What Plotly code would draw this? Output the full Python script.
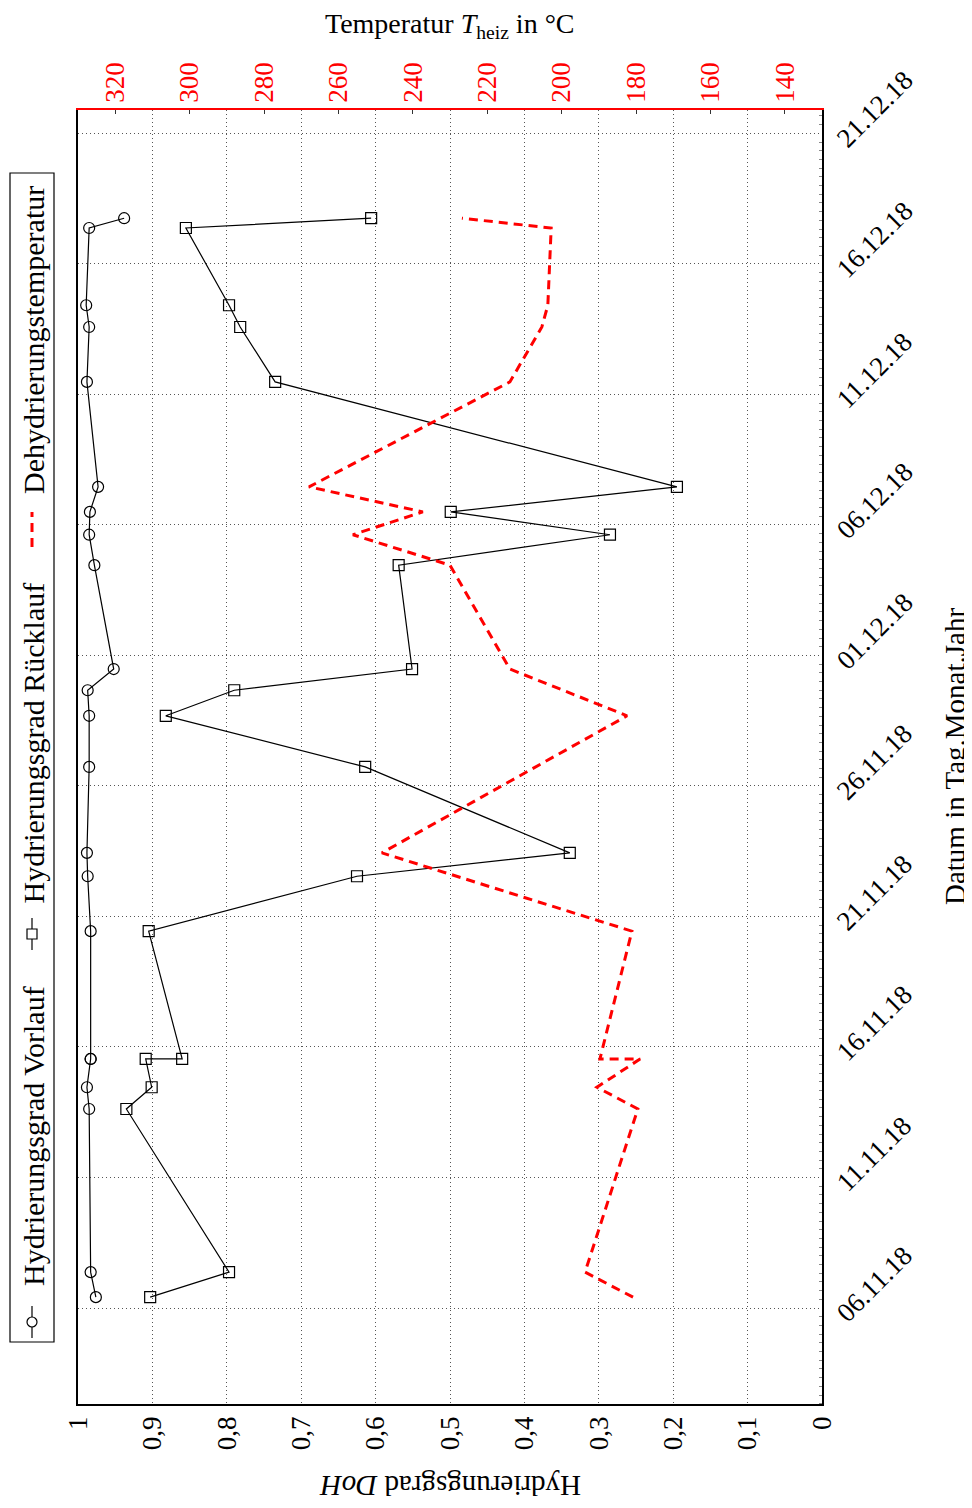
import plotly.graph_objects as go

# ---------------- data ----------------
dates = ["2018-11-06 10:00", "2018-11-07 09:00", "2018-11-13 15:00", "2018-11-14 11:00",
         "2018-11-15 13:00", "2018-11-15 13:00", "2018-11-20 10:30", "2018-11-22 13:00",
         "2018-11-23 10:30", "2018-11-26 17:30", "2018-11-28 16:30", "2018-11-29 16:00",
         "2018-11-30 11:30", "2018-12-04 11:00", "2018-12-05 15:00", "2018-12-06 12:00",
         "2018-12-07 11:00", "2018-12-11 11:30", "2018-12-13 14:00", "2018-12-14 10:00",
         "2018-12-17 09:00", "2018-12-17 18:00"]
doh_vorlauf = [0.976, 0.983, 0.985, 0.988, 0.983, 0.983, 0.983, 0.987, 0.988, 0.985, 0.985,
               0.987, 0.952, 0.978, 0.985, 0.984, 0.973, 0.988, 0.985, 0.989, 0.985, 0.938]
doh_ruecklauf = [0.903, 0.797, 0.935, 0.901, 0.909, 0.860, 0.905, 0.625, 0.339, 0.614, 0.882,
                 0.790, 0.551, 0.569, 0.285, 0.499, 0.195, 0.735, 0.782, 0.797, 0.855, 0.606]

temp_dates = ["2018-11-06 10:00", "2018-11-07 09:00", "2018-11-13 15:00", "2018-11-14 11:00",
              "2018-11-15 13:00", "2018-11-15 13:00", "2018-11-20 10:30", "2018-11-23 10:30",
              "2018-11-28 16:30", "2018-11-30 11:30", "2018-12-04 11:00", "2018-12-05 15:00",
              "2018-12-06 12:00", "2018-12-07 11:00", "2018-12-11 11:30", "2018-12-13 14:00",
              "2018-12-14 10:00", "2018-12-17 09:00", "2018-12-17 18:00"]
temp_heiz = [180.8, 193.7, 179.5, 190.5, 178.9, 189.7, 181.1, 248.3, 182.4, 213.9, 230.0,
             256.1, 237.3, 267.9, 213.9, 205.3, 203.7, 202.8, 226.8]

doh_ticks = [1, 0.9, 0.8, 0.7, 0.6, 0.5, 0.4, 0.3, 0.2, 0.1, 0]
temp_ticks = [320, 300, 280, 260, 240, 220, 200, 180, 160, 140]

legend_names = ["Hydrierungsgrad Vorlauf", "Hydrierungsgrad Rücklauf", "Dehydrierungstemperatur"]

FONT = "Liberation Serif"
OFF = 8  # default body margin of the html page
W, H = 972 - OFF, 1508 - OFF
# plot area in page pixel coordinates
L, R, T, B = 78, 822, 110, 1404


def px(x):
    return (x - L) / (R - L)


def py(y):
    return (B - y) / (B - T)


fig = go.Figure()
fig.add_trace(go.Scatter(
    x=doh_vorlauf, y=dates, mode="lines+markers", name=legend_names[0],
    line=dict(color="black", width=1.2),
    marker=dict(symbol="circle-open", size=11, color="black", line=dict(width=1.2)),
    xaxis="x", yaxis="y", showlegend=False))
fig.add_trace(go.Scatter(
    x=doh_ruecklauf, y=dates, mode="lines+markers", name=legend_names[1],
    line=dict(color="black", width=1.2),
    marker=dict(symbol="square-open", size=11, color="black", line=dict(width=1.2)),
    xaxis="x", yaxis="y", showlegend=False))
fig.add_trace(go.Scatter(
    x=temp_heiz, y=temp_dates, mode="lines", name=legend_names[2],
    line=dict(color="#ff0000", width=3, dash="9px,6px"),
    xaxis="x2", yaxis="y", showlegend=False))

GRID = dict(showgrid=True, gridcolor="#555", griddash="1px,3px", gridwidth=1)

fig.update_layout(
    width=W, height=H,
    margin=dict(l=L - OFF, r=W - (R - OFF), t=T - OFF, b=H - (B - OFF), autoexpand=False),
    paper_bgcolor="white", plot_bgcolor="white",
    separators=",.",
    font=dict(family=FONT, size=27, color="black"),
    xaxis=dict(
        range=[1, 0], tickvals=doh_ticks, tickangle=-90, automargin=False,
        showline=True, linecolor="black", linewidth=1.5, ticks="",
        zeroline=False, tickfont=dict(size=27, color="black"), **GRID,
    ),
    xaxis2=dict(
        range=[330, 130], tickvals=temp_ticks, tickangle=-90, overlaying="x", side="top",
        automargin=False,
        showgrid=False, showline=True, linecolor="#ff0000", linewidth=1.5,
        ticks="inside", ticklen=4, tickcolor="#333", zeroline=False,
        tickfont=dict(size=27, color="#ff0000"),
    ),
    yaxis=dict(
        type="date", side="right", automargin=False,
        range=["2018-11-02 07:45", "2018-12-21 21:30"],
        tick0="2018-11-06", dtick=5 * 86400000, tickformat="%d.%m.%y",
        tickangle=-45, ticklabelstandoff=9, ticklabelshift=10,
        showline=True, linecolor="black", linewidth=1.5, mirror=True, ticks="",
        zeroline=False, tickfont=dict(size=27, color="black"),
        minor=dict(ticks="inside", ticklen=3, tickcolor="#888", dtick=8 * 3600000,
                   showgrid=False),
        **GRID,
    ),
)

annotations = [
    dict(text="Temperatur <i>T</i><sub>heiz</sub> in °C", x=0.5, y=py(25), xref="paper",
         yref="paper", xanchor="center", yanchor="middle", showarrow=False,
         font=dict(size=28)),
    dict(text="Datum in Tag.Monat.Jahr", x=px(955), y=0.5, xref="paper", yref="paper",
         xanchor="center", yanchor="middle", textangle=-90, showarrow=False,
         font=dict(size=29)),
    dict(text="Hydrierungsgrad <i>DoH</i>", x=0.5, y=py(1486), xref="paper", yref="paper",
         xanchor="center", yanchor="middle", textangle=180, showarrow=False,
         font=dict(size=29)),
]
# legend texts (rotated, reading bottom to top)
for name, ybot in zip(legend_names, [1288, 906, 496]):
    annotations.append(dict(text=name, x=px(33), y=py(ybot), xref="paper", yref="paper",
                            xanchor="center", yanchor="bottom", textangle=-90,
                            showarrow=False, font=dict(size=30)))
fig.update_layout(annotations=annotations)

shapes = [
    dict(type="rect", xref="paper", yref="paper", x0=px(10), x1=px(54), y0=py(173), y1=py(1342),
         line=dict(color="black", width=1.2), fillcolor="rgba(0,0,0,0)"),
    # Vorlauf sample
    dict(type="line", xref="paper", yref="paper", x0=px(32), x1=px(32), y0=py(1338), y1=py(1306),
         line=dict(color="black", width=1.2)),
    dict(type="circle", xref="paper", yref="paper", xsizemode="pixel", ysizemode="pixel",
         xanchor=px(32), yanchor=py(1322), x0=-5, x1=5, y0=-5, y1=5,
         line=dict(color="black", width=1.2), fillcolor="white"),
    # Rücklauf sample
    dict(type="line", xref="paper", yref="paper", x0=px(32), x1=px(32), y0=py(950), y1=py(918),
         line=dict(color="black", width=1.2)),
    dict(type="rect", xref="paper", yref="paper", xsizemode="pixel", ysizemode="pixel",
         xanchor=px(32), yanchor=py(934), x0=-5, x1=5, y0=-5, y1=5,
         line=dict(color="black", width=1.2), fillcolor="white"),
    # temperature sample
    dict(type="line", xref="paper", yref="paper", x0=px(32), x1=px(32), y0=py(547), y1=py(512),
         line=dict(color="#ff0000", width=3, dash="9px,6px")),
]
fig.update_layout(shapes=shapes)

fig.write_html("out.html")
